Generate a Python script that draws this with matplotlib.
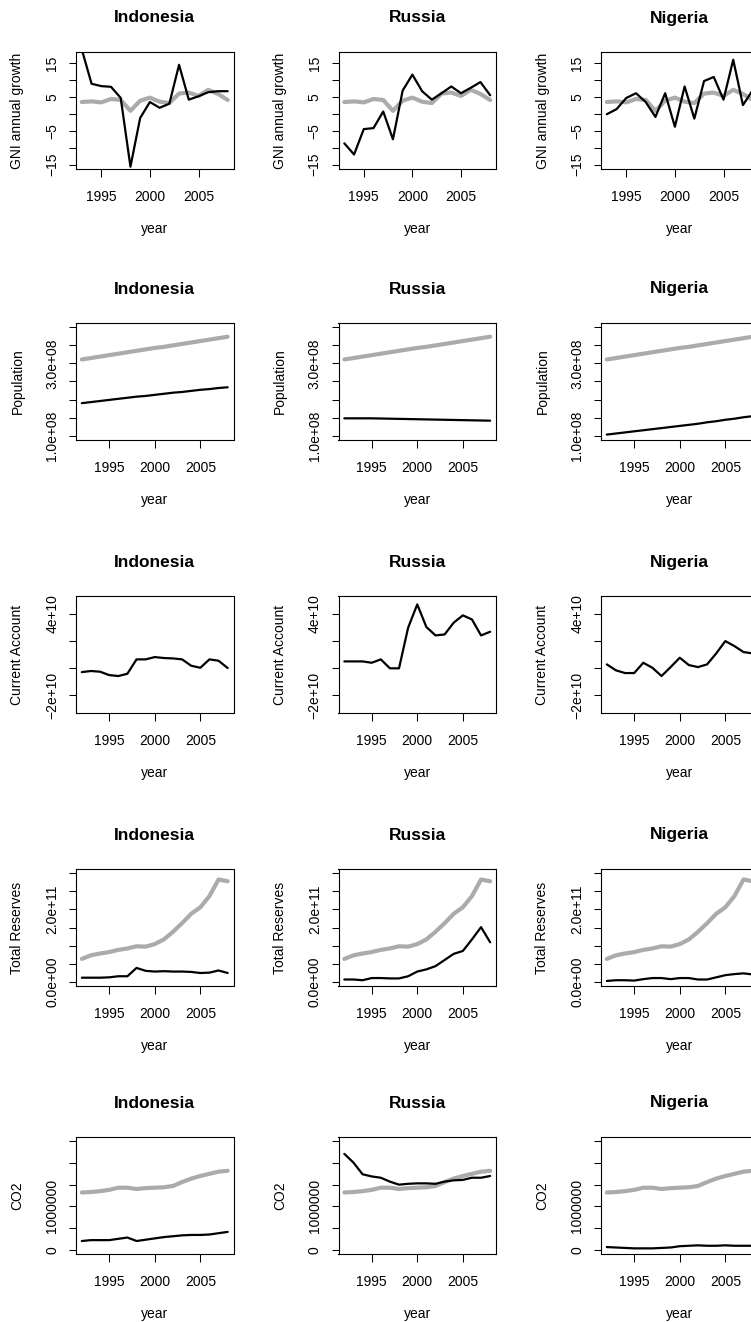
import matplotlib
matplotlib.use("Agg")
import matplotlib.pyplot as plt

plt.rcParams['font.family'] = ['Liberation Sans', 'DejaVu Sans']

W, H = 751, 1322

countries = ["Indonesia", "Russia", "Nigeria"]
years_gni = list(range(1993, 2009))
years = list(range(1992, 2009))

# GNI annual growth (%), 1993-2008; grey = comparison average
gni_indonesia = [19.0, 8.9, 8.2, 8.0, 4.7, -15.6, -1.2, 3.5, 1.8, 3.0, 14.5, 4.2, 5.2, 6.4, 6.7, 6.7]
gni_russia = [-8.7, -12.0, -4.5, -4.2, 0.7, -7.5, 6.9, 11.6, 6.7, 4.2, 6.1, 8.1, 6.1, 7.7, 9.4, 5.5]
gni_nigeria = [-0.1, 1.4, 4.7, 6.1, 3.5, -0.9, 6.1, -3.8, 8.1, -1.4, 9.7, 10.9, 4.2, 16.0, 2.6, 7.0]
gni_avg = [3.5, 3.7, 3.4, 4.4, 4.1, 0.9, 3.9, 4.8, 3.6, 3.2, 6.0, 6.3, 5.3, 7.1, 5.9, 4.1]

# Population (1e8), 1992-2008
pop_indonesia = [1.90, 1.93, 1.96, 1.99, 2.02, 2.05, 2.08, 2.10, 2.13, 2.16, 2.19, 2.21, 2.24, 2.27, 2.29, 2.32, 2.34]
pop_russia = [1.48, 1.48, 1.48, 1.48, 1.475, 1.47, 1.465, 1.46, 1.455, 1.45, 1.445, 1.44, 1.435, 1.43, 1.425, 1.42, 1.415]
pop_nigeria = [1.03, 1.06, 1.09, 1.12, 1.15, 1.18, 1.21, 1.24, 1.27, 1.30, 1.33, 1.37, 1.40, 1.44, 1.47, 1.51, 1.54]
pop_avg = [3.11, 3.15, 3.19, 3.23, 3.27, 3.31, 3.35, 3.39, 3.43, 3.46, 3.50, 3.54, 3.58, 3.62, 3.66, 3.70, 3.74]

# Current account (1e10)
ca_indonesia = [-0.30, -0.22, -0.27, -0.52, -0.59, -0.42, 0.64, 0.64, 0.81, 0.74, 0.71, 0.64, 0.17, 0.02, 0.64, 0.54, 0.0]
ca_russia = [0.49, 0.49, 0.49, 0.39, 0.64, -0.02, -0.02, 2.98, 4.70, 3.03, 2.41, 2.48, 3.35, 3.89, 3.59, 2.41, 2.68]
ca_nigeria = [0.27, -0.17, -0.37, -0.37, 0.39, 0.02, -0.59, 0.07, 0.76, 0.22, 0.07, 0.27, 1.08, 1.99, 1.62, 1.18, 1.08]

# Total reserves (1e11)
res_indonesia = [0.11, 0.11, 0.11, 0.12, 0.15, 0.15, 0.38, 0.30, 0.28, 0.29, 0.28, 0.28, 0.27, 0.24, 0.25, 0.31, 0.24]
res_russia = [0.06, 0.06, 0.04, 0.10, 0.10, 0.09, 0.09, 0.15, 0.28, 0.34, 0.43, 0.60, 0.77, 0.85, 1.17, 1.51, 1.09]
res_nigeria = [0.02, 0.04, 0.04, 0.03, 0.07, 0.10, 0.10, 0.07, 0.10, 0.10, 0.06, 0.06, 0.12, 0.18, 0.21, 0.23, 0.20]
res_avg = [0.63, 0.73, 0.78, 0.82, 0.88, 0.92, 0.98, 0.97, 1.04, 1.17, 1.38, 1.62, 1.88, 2.06, 2.37, 2.83, 2.78]

# CO2 (1e6)
co2_indonesia = [0.20, 0.22, 0.22, 0.22, 0.25, 0.28, 0.20, 0.23, 0.26, 0.29, 0.31, 0.33, 0.34, 0.34, 0.35, 0.38, 0.41]
co2_russia = [2.21, 2.01, 1.74, 1.69, 1.66, 1.57, 1.50, 1.52, 1.53, 1.53, 1.52, 1.57, 1.60, 1.61, 1.66, 1.66, 1.70]
co2_nigeria = [0.06, 0.05, 0.04, 0.03, 0.03, 0.03, 0.04, 0.05, 0.08, 0.09, 0.10, 0.09, 0.09, 0.10, 0.09, 0.09, 0.09]
co2_avg = [1.32, 1.33, 1.35, 1.38, 1.43, 1.43, 1.40, 1.42, 1.43, 1.44, 1.47, 1.56, 1.64, 1.70, 1.75, 1.80, 1.82]

# (ylabel, x years, scale, per-country series, grey series, ylim, ticks, labelled ticks)
rows = [
    ("GNI annual growth", years_gni, 1, [gni_indonesia, gni_russia, gni_nigeria], gni_avg,
     (-15, 17), [-15, -10, -5, 0, 5, 10, 15], {-15: "\u221215", -5: "\u22125", 5: "5", 15: "15"}),
    ("Population", years, 1e8, [pop_indonesia, pop_russia, pop_nigeria], pop_avg,
     (1e8, 4e8), [1e8, 1.5e8, 2e8, 2.5e8, 3e8, 3.5e8, 4e8], {1e8: "1.0e+08", 3e8: "3.0e+08"}),
    ("Current Account", years, 1e10, [ca_indonesia, ca_russia, ca_nigeria], None,
     (-3e10, 5e10), [-2e10, 0, 2e10, 4e10], {-2e10: "\u22122e+10", 4e10: "4e+10"}),
    ("Total Reserves", years, 1e11, [res_indonesia, res_russia, res_nigeria], res_avg,
     (0, 3e11), [0, 0.5e11, 1e11, 1.5e11, 2e11, 2.5e11, 3e11], {0: "0.0e+00", 2e11: "2.0e+11"}),
    ("CO2", years, 1e6, [co2_indonesia, co2_russia, co2_nigeria], co2_avg,
     (0, 2.5e6), [0, 0.5e6, 1e6, 1.5e6, 2e6, 2.5e6], {0: "0", 1e6: "1000000"}),
]

box_left = [76, 338.5, 601]
box_top = [52, 323, 596, 869, 1137]
box_w, box_h = 157.5, 117


def pad(lo, hi):
    d = (hi - lo) * 0.04
    return lo - d, hi + d


fig = plt.figure(figsize=(W / 100, H / 100), dpi=100)

for r, (ylab, xs, scale, series, avg, ylim, yt, ylabels) in enumerate(rows):
    for c, country in enumerate(countries):
        left = box_left[c] / W
        bottom = 1 - (box_top[r] + box_h) / H
        ax = fig.add_axes([left, bottom, box_w / W, box_h / H])
        if avg is not None:
            ax.plot(xs, [v * scale for v in avg], color="#ABABAB", lw=3.0,
                    solid_capstyle="round", solid_joinstyle="round")
        ax.plot(xs, [v * scale for v in series[c]], color="black", lw=1.6,
                solid_capstyle="round", solid_joinstyle="round")
        ax.set_xlim(*pad(xs[0], xs[-1]))
        ax.set_ylim(*pad(*ylim))
        ax.set_xticks([1995, 2000, 2005])
        ax.set_xticklabels(["1995", "2000", "2005"])
        ax.set_yticks(yt)
        ax.set_yticklabels([ylabels.get(t, "") for t in yt], rotation=90, va="center")
        ax.tick_params(axis="x", direction="out", length=6, width=0.75, labelsize=10, pad=9)
        ax.tick_params(axis="y", direction="out", length=5, width=0.75, labelsize=10, pad=7)
        for s in ax.spines.values():
            s.set_linewidth(0.8)
        ax.text(0.5, 1 + 34 / box_h, country, transform=ax.transAxes, ha="center", va="center",
                fontsize=12.5, fontweight="bold")
        ax.text(0.5, -60 / box_h, "year", transform=ax.transAxes, ha="center", va="center", fontsize=10)
        ax.text(-58.5 / box_w, 0.5, ylab, transform=ax.transAxes, ha="center", va="center",
                rotation=90, fontsize=10)

fig.savefig("out.png", dpi=100)
